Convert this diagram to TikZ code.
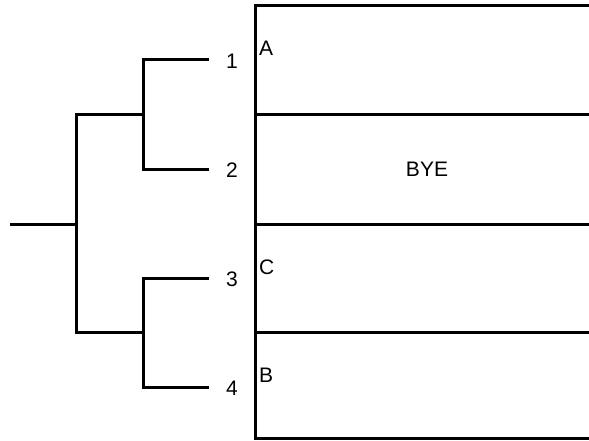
\documentclass[tikz,border=0pt]{standalone}
\usepackage{fontspec}
\setmainfont{Liberation Sans}
\begin{document}
\begin{tikzpicture}[x=1pt,y=-1pt,
  ln/.style={line width=3pt, line join=miter, line cap=butt},
  seed/.style={inner sep=0pt, font=\fontsize{21}{25}\selectfont},
  team/.style={inner sep=0pt, anchor=base west, font=\fontsize{21}{25}\selectfont},
  byelbl/.style={inner sep=0pt, anchor=base, font=\fontsize{21}{25}\selectfont}]
\useasboundingbox (0,0) rectangle (589,441);
% bracket coordinates
\coordinate (r0) at (10,224);
\coordinate (r1) at (76,224);
\coordinate (a1) at (76,115);
\coordinate (a2) at (76,332);
\coordinate (b1) at (143,115);
\coordinate (b2) at (143,332);
\coordinate (c1) at (143,60);
\coordinate (c2) at (143,169);
\coordinate (c3) at (143,278);
\coordinate (c4) at (143,387);
\coordinate (e1) at (209,60);
\coordinate (e2) at (209,169);
\coordinate (e3) at (209,278);
\coordinate (e4) at (209,387);
% seeds
\node[seed] (s1) at (232,61) {1};
\node[seed] (s2) at (232,170) {2};
\node[seed] (s3) at (232,279) {3};
\node[seed] (s4) at (232,388) {4};
% bracket lines
\draw[ln] (r0) -- (r1);
\draw[ln] (b1) -- (a1) -- (a2) -- (b2);
\draw[ln] (e1) -- (c1) -- (c2) -- (e2);
\draw[ln] (e3) -- (c3) -- (c4) -- (e4);
% table
\coordinate (t0) at (255,6);
\coordinate (t1) at (255,115);
\coordinate (t2) at (255,224);
\coordinate (t3) at (255,332);
\coordinate (t4) at (255,438);
\coordinate (u0) at (589,6);
\coordinate (u1) at (589,115);
\coordinate (u2) at (589,224);
\coordinate (u3) at (589,332);
\coordinate (u4) at (589,438);
\draw[ln] (u0) -- (t0) -- (t4) -- (u4);
\draw[ln] (t1) -- (u1);
\draw[ln] (t2) -- (u2);
\draw[ln] (t3) -- (u3);
% team labels
\node[team] (ta) at (259,56) {A};
\node[byelbl] (tbye) at (427,176) {BYE};
\node[team] (tc) at (259,274) {C};
\node[team] (tb) at (259,382) {B};
\end{tikzpicture}
\end{document}
